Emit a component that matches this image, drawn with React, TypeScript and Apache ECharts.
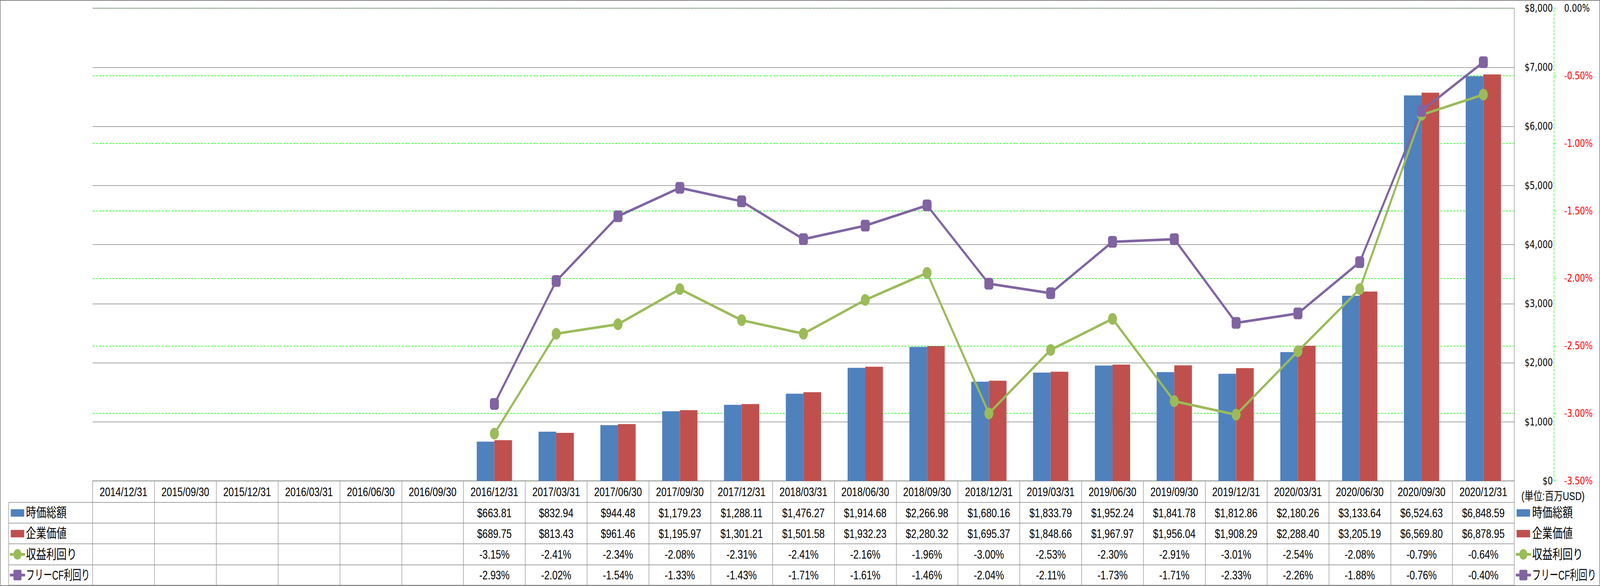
import React, { useEffect, useRef } from "react";
import * as echarts from "echarts";

const categories = [
  "2014/12/31", "2015/09/30", "2015/12/31", "2016/03/31", "2016/06/30", "2016/09/30",
  "2016/12/31", "2017/03/31", "2017/06/30", "2017/09/30", "2017/12/31", "2018/03/31",
  "2018/06/30", "2018/09/30", "2018/12/31", "2019/03/31", "2019/06/30", "2019/09/30",
  "2019/12/31", "2020/03/31", "2020/06/30", "2020/09/30", "2020/12/31",
];
const marketCap = [
  null, null, null, null, null, null,
  663.81, 832.94, 944.48, 1179.23, 1288.11, 1476.27, 1914.68, 2266.98, 1680.16,
  1833.79, 1952.24, 1841.78, 1812.86, 2180.26, 3133.64, 6524.63, 6848.59,
];
const enterpriseValue = [
  null, null, null, null, null, null,
  689.75, 813.43, 961.46, 1195.97, 1301.21, 1501.58, 1932.23, 2280.32, 1695.37,
  1848.66, 1967.97, 1956.04, 1908.29, 2288.4, 3205.19, 6569.8, 6878.95,
];
const earningsYield = [
  null, null, null, null, null, null,
  -3.15, -2.41, -2.34, -2.08, -2.31, -2.41, -2.16, -1.96, -3.0,
  -2.53, -2.3, -2.91, -3.01, -2.54, -2.08, -0.79, -0.64,
];
const fcfYield = [
  null, null, null, null, null, null,
  -2.93, -2.02, -1.54, -1.33, -1.43, -1.71, -1.61, -1.46, -2.04,
  -2.11, -1.73, -1.71, -2.33, -2.26, -1.88, -0.76, -0.4,
];
const seriesNames = ["時価総額", "企業価値", "収益利回り", "フリーCF利回り"];
const unitLabel = "(単位:百万USD)";

const BLUE = "#4F81BD";
const RED = "#C0504D";
const GREEN = "#9BBB59";
const PURPLE = "#8064A2";
const GRAY = "#868686";

const W = 5355;
const H = 1500;
const PLOT_L = 310;
const PLOT_R = 5068;
const PLOT_T = 21;
const PLOT_B = 1231;
const ROW_LINES = [1286, 1339, 1392, 1446, 1498];
const ROW_CENTERS = [1259, 1312.5, 1365.5, 1419, 1472];
const LABEL_MAX_W = 214;
const TABLE_FONT = "'Liberation Sans', 'Noto Sans CJK JP', sans-serif";
const AXIS_FONT = "'DejaVu Sans', sans-serif";

const money = (v: number | null) =>
  v == null ? "" : "$" + v.toLocaleString("en-US", { minimumFractionDigits: 2, maximumFractionDigits: 2 });
const pct = (v: number | null) => (v == null ? "" : v.toFixed(2) + "%");

function fitScale(text: string, fontSize: number, maxW: number): number {
  const c = document.createElement("canvas").getContext("2d");
  if (!c) return 1;
  c.font = fontSize + "px " + TABLE_FONT;
  const w = c.measureText(text).width;
  return w > maxW ? maxW / w : 1;
}

function legendKey(kind: number, x: number, y: number): any[] {
  const colors = [BLUE, RED, GREEN, PURPLE];
  const c = colors[kind];
  if (kind < 2) {
    return [{ type: "rect", shape: { x: x, y: y - 9, width: 45, height: 19 }, style: { fill: c } }];
  }
  const els: any[] = [
    { type: "line", shape: { x1: x - 3, y1: y, x2: x + 48, y2: y }, style: { stroke: c, lineWidth: 7 } },
  ];
  if (kind === 2) {
    els.push({ type: "circle", shape: { cx: x + 22.5, cy: y, r: 13.5 }, style: { fill: c } });
  } else {
    els.push({ type: "rect", shape: { x: x + 9, y: y - 13.5, width: 27, height: 27, r: 4 }, style: { fill: c } });
  }
  return els;
}

export default function App() {
  const ref = useRef<HTMLDivElement>(null);
  const vw = typeof window !== "undefined" ? window.innerWidth : W;
  const vh = typeof window !== "undefined" ? window.innerHeight : H;
  const sx = Math.min(1, vw / W);
  const sy = Math.min(1, vh / H);

  useEffect(() => {
    document.body.style.margin = "0";
    document.body.style.overflow = "hidden";
    if (!ref.current) return;
    const chart = echarts.init(ref.current, null, { renderer: "svg" });

    const rowData = [
      marketCap.map(money),
      enterpriseValue.map(money),
      earningsYield.map(pct),
      fcfYield.map(pct),
    ];

    const rowAxes = rowData.map((d, i) => ({
      type: "category",
      gridIndex: 0,
      position: "bottom",
      data: d,
      axisLine: { show: false, onZero: false },
      axisTick: { show: false },
      splitLine: { show: false },
      axisLabel: {
        interval: 0,
        margin: ROW_CENTERS[i + 1] - PLOT_B,
        verticalAlign: "middle",
        fontFamily: TABLE_FONT,
        fontSize: 32,
        color: "#000",
      },
    }));

    const graphics: any[] = [];
    graphics.push({
      type: "rect",
      shape: { x: 1, y: 1, width: W - 2, height: H - 2 },
      style: { fill: "none", stroke: GRAY, lineWidth: 2 },
      silent: true,
    });
    ROW_LINES.forEach((y) => {
      graphics.push({
        type: "line",
        shape: { x1: 29, y1: y, x2: PLOT_R, y2: y },
        style: { stroke: GRAY, lineWidth: 1.5 },
      });
    });
    graphics.push({
      type: "line",
      shape: { x1: 29, y1: ROW_LINES[0], x2: 29, y2: ROW_LINES[4] },
      style: { stroke: GRAY, lineWidth: 1.5 },
    });
    seriesNames.forEach((name, i) => {
      const cy = ROW_CENTERS[i + 1];
      const k = fitScale(name, 34, LABEL_MAX_W);
      graphics.push(...legendKey(i, 36, cy));
      graphics.push({
        type: "text",
        x: 87,
        y: cy,
        scaleX: k,
        style: { text: name, fontFamily: TABLE_FONT, fontSize: 34, fill: "#000", verticalAlign: "middle", align: "left" },
      });
      graphics.push(...legendKey(i, 5076, cy));
      graphics.push({
        type: "text",
        x: 5128,
        y: cy,
        scaleX: k,
        style: { text: name, fontFamily: TABLE_FONT, fontSize: 34, fill: "#000", verticalAlign: "middle", align: "left" },
      });
    });
    graphics.push({
      type: "text",
      x: 5092,
      y: 1270,
      style: { text: unitLabel, fontFamily: TABLE_FONT, fontSize: 30, fill: "#000", verticalAlign: "middle", align: "left" },
    });

    chart.setOption({
      animation: false,
      backgroundColor: "#fff",
      grid: { left: PLOT_L, right: W - PLOT_R, top: PLOT_T, bottom: H - PLOT_B, containLabel: false },
      xAxis: [
        {
          type: "category",
          data: categories,
          position: "bottom",
          boundaryGap: true,
          axisLine: { show: true, onZero: false, lineStyle: { color: GRAY, width: 1.5 } },
          axisTick: { show: true, interval: 0, alignWithLabel: false, length: ROW_LINES[4] - PLOT_B, lineStyle: { color: GRAY, width: 1.5 } },
          axisLabel: {
            interval: 0,
            margin: ROW_CENTERS[0] - PLOT_B,
            verticalAlign: "middle",
            fontFamily: TABLE_FONT,
            fontSize: 32,
            color: "#000",
          },
          splitLine: { show: false },
        },
        ...rowAxes,
      ],
      yAxis: [
        {
          type: "value",
          position: "right",
          offset: 133,
          min: -3.5,
          max: 0,
          interval: 0.5,
          axisLine: { show: true, lineStyle: { color: "#00FF00", width: 1.5, type: [6, 4] } },
          axisTick: { show: true, inside: false, length: 11, lineStyle: { color: "#00FF00", width: 1.5, type: [6, 4] } },
          splitLine: { show: true, lineStyle: { color: "#00FF00", width: 1.5, type: [7, 4] } },
          axisLabel: {
            margin: 34,
            align: "left",
            fontFamily: AXIS_FONT,
            fontSize: 27,
            color: (v: any) => (Number(v) < 0 ? "#FF0000" : "#000000"),
            formatter: (v: number) => v.toFixed(2) + "%",
          },
        },
        {
          type: "value",
          position: "right",
          min: 0,
          max: 8000,
          interval: 1000,
          axisLine: { show: true, lineStyle: { color: GRAY, width: 1.5 } },
          axisTick: { show: false },
          splitLine: { show: true, lineStyle: { color: GRAY, width: 1.5 } },
          axisLabel: {
            margin: 129,
            align: "right",
            fontFamily: AXIS_FONT,
            fontSize: 27,
            color: "#000",
            formatter: (v: number) => "$" + v.toLocaleString("en-US"),
          },
        },
      ],
      series: [
        {
          name: seriesNames[0],
          type: "bar",
          xAxisIndex: 0,
          yAxisIndex: 1,
          data: marketCap,
          barWidth: 59,
          barGap: "0%",
          itemStyle: { color: BLUE },
        },
        {
          name: seriesNames[1],
          type: "bar",
          xAxisIndex: 0,
          yAxisIndex: 1,
          data: enterpriseValue,
          barWidth: 59,
          barGap: "0%",
          itemStyle: { color: RED },
        },
        {
          name: seriesNames[2],
          type: "line",
          xAxisIndex: 0,
          yAxisIndex: 0,
          data: earningsYield,
          symbol: "circle",
          symbolSize: 30,
          showAllSymbol: true,
          connectNulls: false,
          lineStyle: { color: GREEN, width: 6.5 },
          itemStyle: { color: GREEN },
        },
        {
          name: seriesNames[3],
          type: "line",
          xAxisIndex: 0,
          yAxisIndex: 0,
          data: fcfYield,
          symbol: "roundRect",
          symbolSize: 30,
          showAllSymbol: true,
          connectNulls: false,
          lineStyle: { color: PURPLE, width: 6.5 },
          itemStyle: { color: PURPLE },
        },
      ],
      graphic: graphics,
    });
    return () => chart.dispose();
  }, []);

  return (
    <div style={{ position: "relative", width: Math.round(W * sx), height: Math.round(H * sy), overflow: "hidden" }}>
      <div
        ref={ref}
        style={{
          position: "absolute",
          left: 0,
          top: 0,
          width: W,
          height: H,
          transform: "scale(" + sx + "," + sy + ")",
          transformOrigin: "0 0",
        }}
      />
    </div>
  );
}
